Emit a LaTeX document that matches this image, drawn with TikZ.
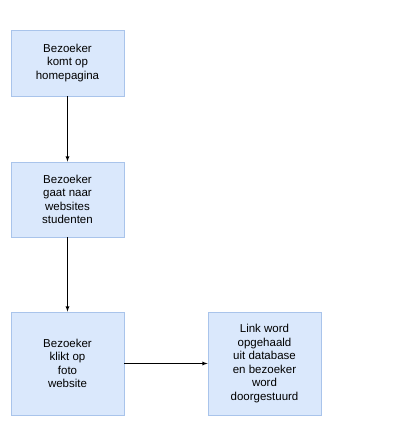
\documentclass[tikz,border=0pt]{standalone}
\usepackage{fontspec}
\setmainfont{Liberation Sans}
\definecolor{boxfill}{HTML}{DAE8FC}
\definecolor{boxline}{HTML}{A9C4EB}
\tikzset{
	stap/.style={draw=boxline,fill=boxfill,line width=0.8pt,minimum width=113pt,align=center,
		font=\fontsize{11.5}{13.5}\selectfont,inner sep=0pt},
	pijl/.style={-latex,line width=0.8pt}
}
\begin{document}
\begin{tikzpicture}[x=1pt,y=1pt]
		\useasboundingbox[fill=white] (0,0) rectangle (400,434);
		\node[stap,minimum height=66pt] (home) at (67.5,371) {Bezoeker\\komt op\\homepagina};
		\node[stap,minimum height=75pt] (studenten) at (67.5,234.5) {Bezoeker\\gaat naar\\websites\\studenten};
		\node[stap,minimum height=103pt] (klik) at (67.5,70.5) {Bezoeker\\klikt op\\foto\\website};
		\node[stap,minimum height=103pt] (link) at (264.5,70.5) {Link word\\opgehaald\\uit database\\en bezoeker\\word\\doorgestuurd};
		\draw[pijl] (home) -- (studenten);
		\draw[pijl] (studenten) -- (klik);
		\draw[pijl] (klik) -- (link);
	\end{tikzpicture}
\end{document}
